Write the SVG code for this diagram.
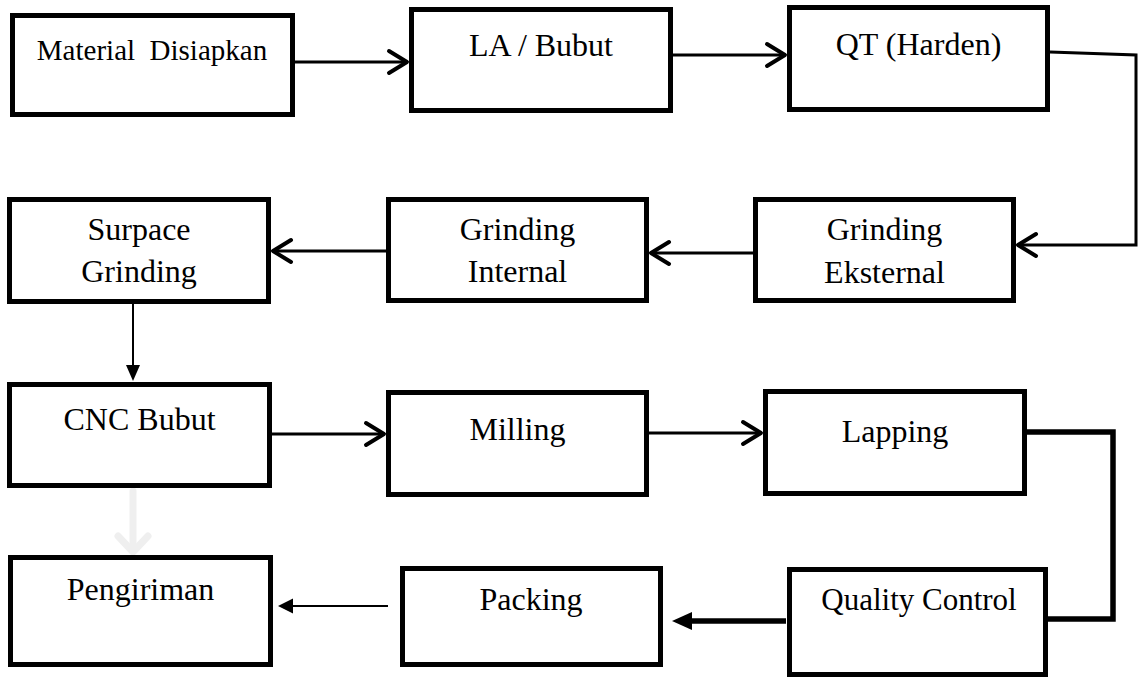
<svg xmlns="http://www.w3.org/2000/svg" width="1141" height="678" viewBox="0 0 1141 678">
<defs>
<style>
.box{fill:#fff;stroke:#000;stroke-width:5}
.t{font-family:'Liberation Serif','Times New Roman',serif;font-size:32px;fill:#000;text-anchor:middle}
.c{fill:none;stroke:#000;stroke-width:3}
.thin{fill:none;stroke:#000;stroke-width:2}
.thick{fill:none;stroke:#000;stroke-width:5.5}
.head{fill:none;stroke:#000;stroke-width:4;stroke-linecap:round;stroke-linejoin:round}
.faint{fill:none;stroke:#efefef;stroke-width:7;stroke-linecap:round;stroke-linejoin:round}
</style>
</defs>
<rect width="1141" height="678" fill="#fff"/>
<g id="connectors">
  <path class="c" d="M295 62 H407"/>
  <path class="head" d="M389 51 L407 62 L389 73"/>
  <path class="c" d="M673 55 H785"/>
  <path class="head" d="M767 44 L785 55 L767 66"/>
  <path class="c" d="M1050 52 L1136 55 V245 H1018"/>
  <path class="head" d="M1036 234 L1018 245 L1036 256"/>
  <path class="c" d="M753 253 H651"/>
  <path class="head" d="M669 242 L651 253 L669 264"/>
  <path class="c" d="M386 251 H273"/>
  <path class="head" d="M291 240 L273 251 L291 262"/>
  <path class="thin" d="M133 304 V366"/>
  <polygon points="126,365 140,365 133,381" fill="#000"/>
  <path class="faint" d="M133 491 V550"/>
  <path class="faint" d="M118 536 L133 552 L148 536"/>
  <path class="c" d="M272 434 H384"/>
  <path class="head" d="M366 423 L384 434 L366 445"/>
  <path class="c" d="M649 433 H761"/>
  <path class="head" d="M743 422 L761 433 L743 444"/>
  <path class="thick" d="M1027 432 H1113 V619 H1048"/>
  <path class="thick" d="M786 621 H690"/>
  <polygon points="692,612 692,630 672,621" fill="#000"/>
  <path class="thin" d="M388 606 H291"/>
  <polygon points="293,598.5 293,613.5 278,606" fill="#000"/>
</g>
<g id="n1"><rect class="box" x="12.5" y="15.5" width="280" height="99"/><text class="t" x="152" y="60" style="font-size:29px" xml:space="preserve">Material  Disiapkan</text></g>
<g id="n2"><rect class="box" x="411.5" y="9.5" width="259" height="101"/><text class="t" x="541" y="56">LA / Bubut</text></g>
<g id="n3"><rect class="box" x="789.5" y="7.5" width="258" height="102"/><text class="t" x="918.5" y="55">QT (Harden)</text></g>
<g id="n4"><rect class="box" x="755.5" y="199.5" width="258" height="101"/><text class="t" x="884.5" y="240">Grinding</text><text class="t" x="884.5" y="283">Eksternal</text></g>
<g id="n5"><rect class="box" x="388.5" y="199.5" width="258" height="101"/><text class="t" x="517.5" y="240">Grinding</text><text class="t" x="517.5" y="282">Internal</text></g>
<g id="n6"><rect class="box" x="9.5" y="199.5" width="259" height="102"/><text class="t" x="139" y="240">Surpace</text><text class="t" x="139" y="282">Grinding</text></g>
<g id="n7"><rect class="box" x="9.5" y="384.5" width="260" height="101"/><text class="t" x="139.5" y="430">CNC Bubut</text></g>
<g id="n8"><rect class="box" x="388.5" y="392.5" width="258" height="102"/><text class="t" x="517.5" y="440">Milling</text></g>
<g id="n9"><rect class="box" x="765.5" y="391.5" width="259" height="102"/><text class="t" x="895" y="442">Lapping</text></g>
<g id="n10"><rect class="box" x="789.5" y="569.5" width="256" height="105"/><text class="t" x="919" y="610" style="font-size:31px">Quality Control</text></g>
<g id="n11"><rect class="box" x="402.5" y="568.5" width="258" height="96"/><text class="t" x="531" y="610">Packing</text></g>
<g id="n12"><rect class="box" x="10.5" y="557.5" width="260" height="107"/><text class="t" x="140.5" y="600">Pengiriman</text></g>
</svg>
